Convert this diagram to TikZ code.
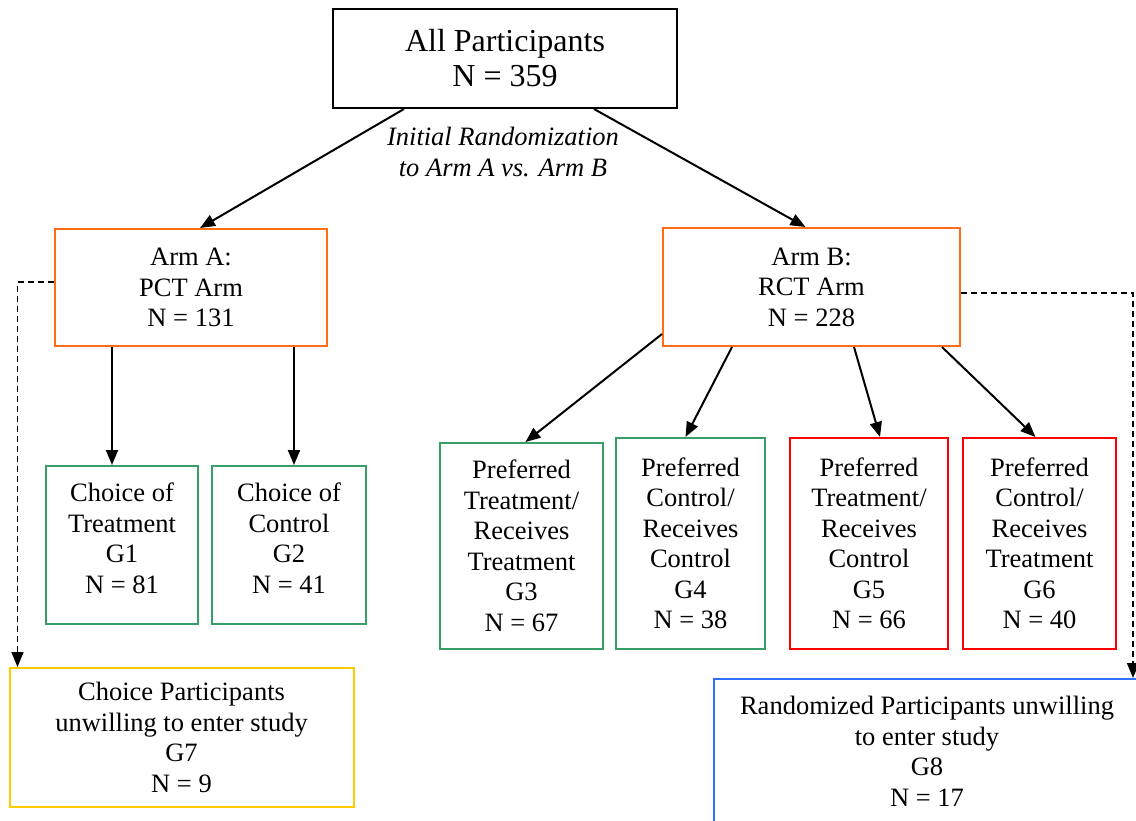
\documentclass[tikz,border=0pt]{standalone}
\usepackage{fontspec}
\setmainfont{Liberation Serif}
\usetikzlibrary{arrows.meta,calc}

\definecolor{armorange}{RGB}{255,110,20}
\definecolor{choicegreen}{RGB}{56,158,104}
\definecolor{mismatchred}{RGB}{255,0,0}
\definecolor{refuseyellow}{RGB}{255,204,0}
\definecolor{refuseblue}{RGB}{51,110,255}

\tikzset{
  box/.style={draw, line width=2pt, rectangle, inner sep=0pt, align=center,
              font=\fontsize{26.5}{30.5}\selectfont},
  flow/.style={line width=2pt, -{Triangle[length=15pt,width=12pt]}},
  dropout/.style={line width=1.6pt, dash pattern=on 6pt off 4pt,
                  -{Triangle[length=15pt,width=12pt]}},
}

\begin{document}
\begin{tikzpicture}[x=1pt,y=-1pt]
  \useasboundingbox (0,0) rectangle (1136,820);
  \clip (0,0) rectangle (1136,820);

  % whole cohort
  \node[box, minimum width=344, minimum height=99,
        font=\fontsize{32}{35}\selectfont] (all) at (505,58.5)
        {All Participants\\N = 359};
  \node[align=center, font=\fontsize{26.5}{31}\selectfont\itshape] (rand) at (503,152)
        {Initial Randomization\\to Arm A vs. Arm B};

  % the two arms
  \node[box, draw=armorange, minimum width=272, minimum height=117] (armA) at (191,287.5)
        {Arm A:\\PCT Arm\\N = 131};
  \node[box, draw=armorange, minimum width=297, minimum height=118] (armB) at (811.5,287)
        {Arm B:\\RCT Arm\\N = 228};

  % preference groups
  \node[box, draw=choicegreen, minimum width=152, minimum height=158, text depth=14pt]
        (g1) at (122,545) {Choice of\\Treatment\\G1\\N = 81};
  \node[box, draw=choicegreen, minimum width=154, minimum height=158, text depth=14pt]
        (g2) at (289,545) {Choice of\\Control\\G2\\N = 41};
  \node[box, draw=choicegreen, minimum width=163, minimum height=206] (g3) at (521.5,546)
        {Preferred\\Treatment/\\Receives\\Treatment\\G3\\N = 67};
  \node[box, draw=choicegreen, minimum width=149, minimum height=211] (g4) at (690.5,543.5)
        {Preferred\\Control/\\Receives\\Control\\G4\\N = 38};
  \node[box, draw=mismatchred, minimum width=158, minimum height=211] (g5) at (869,543.5)
        {Preferred\\Treatment/\\Receives\\Control\\G5\\N = 66};
  \node[box, draw=mismatchred, minimum width=153, minimum height=211] (g6) at (1039.5,543.5)
        {Preferred\\Control/\\Receives\\Treatment\\G6\\N = 40};

  % participants who declined
  \node[box, draw=refuseyellow, minimum width=344, minimum height=139, text depth=-6pt]
        (g7) at (181.5,737.5) {Choice Participants\\unwilling to enter study\\G7\\N = 9};
  \node[box, draw=refuseblue, minimum width=426, minimum height=145] (g8) at (927,751.5)
        {Randomized Participants unwilling\\to enter study\\G8\\N = 17};

  % randomization arrows
  \draw[flow] ($(all.south west)+(72,0)$) -- ($(armA.north)+(9,0)$);
  \draw[flow] ($(all.south west)+(262,0)$) -- ($(armB.north)+(-6,0)$);

  % arm A to its choice groups
  \coordinate (a1) at ($(armA.south west)+(58,0)$);
  \coordinate (a2) at ($(armA.south west)+(240,0)$);
  \draw[flow] (a1) -- (a1 |- g1.north);
  \draw[flow] (a2) -- (a2 |- g2.north);

  % arm B to its four groups
  \draw[flow] ($(armB.south west)+(0,-13)$) -- ($(g3.north)+(4,0)$);
  \draw[flow] ($(armB.south west)+(70,0)$) -- ($(g4.north)+(-5,0)$);
  \draw[flow] ($(armB.south west)+(192,0)$) -- ($(g5.north)+(11,0)$);
  \draw[flow] ($(armB.south west)+(280,0)$) -- ($(g6.north)+(-4,0)$);

  % dashed paths to the refusal groups
  \coordinate (da) at ($(armA.west)+(0,-5.5)$);
  \draw[dropout] (da) -| ($(g7.north west)+(9,0)$);
  \coordinate (db) at ($(armB.east)+(0,6)$);
  \draw[dropout] (db) -| ($(g8.north east)+(-8,0)$);
\end{tikzpicture}
\end{document}
